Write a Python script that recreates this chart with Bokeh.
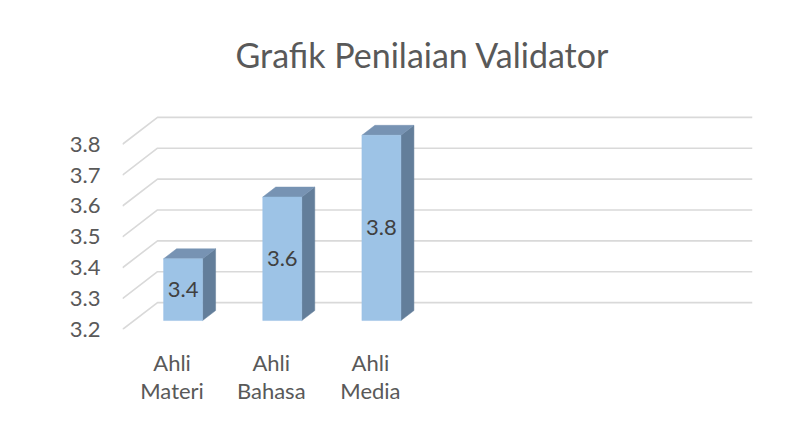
from bokeh.plotting import figure
from bokeh.models import Range1d, FixedTicker, ColumnDataSource
from bokeh.embed import file_html
from bokeh.resources import INLINE
from bokeh.core.properties import value

# ---- data ----
title = "Grafik Penilaian Validator"
categories = ["Ahli Materi", "Ahli Bahasa", "Ahli Media"]
scores = [3.4, 3.6, 3.8]
y_ticks = [3.2, 3.3, 3.4, 3.5, 3.6, 3.7, 3.8]
y_base = 3.2

# ---- layout (pixels) ----
FONT = "Lato"
W, H = 795, 407
N_SLOTS = 6                 # category slots on the axis (3 empty)
PX_SLOT = 595 / N_SLOTS     # px per category slot
PX_UNIT = 310.0             # px per value unit
DEPTH_X, DEPTH_Y = 35, 27   # 3-D depth of the wall (px)
BAR_OFF_X, BAR_OFF_Y = 11, 9
BAR_D_X, BAR_D_Y = 13, 10
BAR_W = 39
L, R, B, T = 122, 43, 77, 80

dxf = DEPTH_X / PX_SLOT
dyf = DEPTH_Y / PX_UNIT
frame_w = W - L - R
frame_h = H - B - T

p = figure(width=W, height=H, output_backend="svg", toolbar_location=None,
           x_range=Range1d(0, frame_w / PX_SLOT), y_range=Range1d(y_base, y_base + frame_h / PX_UNIT),
           min_border_left=L, min_border_right=R, min_border_bottom=B, min_border_top=T,
           background_fill_color="white", border_fill_color="white")
p.outline_line_color = None
p.grid.visible = False

# title
p.title.text = title
p.title.text_font = FONT
p.title.text_font_size = "34px"
p.title.text_font_style = "normal"
p.title.text_color = "#595959"
p.title.align = "left"
p.title.offset = 113
p.title.standoff = 12

# gridlines (front diagonal + back wall)
gx, gy = [], []
for t in y_ticks:
    gx.append([0, dxf, N_SLOTS + dxf])
    gy.append([t, t + dyf, t + dyf])
p.multi_line(gx, gy, line_color="#D9D9D9", line_width=1.6)

# bars
bo_x, bo_y = BAR_OFF_X / PX_SLOT, BAR_OFF_Y / PX_UNIT
bd_x, bd_y = BAR_D_X / PX_SLOT, BAR_D_Y / PX_UNIT
hw = BAR_W / PX_SLOT / 2
front_x, front_y, side_x, side_y, top_x, top_y = [], [], [], [], [], []
lab_x, lab_y, lab_t = [], [], []
for i, v in enumerate(scores):
    c = i + 0.5 + bo_x
    xl, xr = c - hw, c + hw
    yb, yt = y_base + bo_y, v + bo_y
    front_x.append([xl, xr, xr, xl]); front_y.append([yb, yb, yt, yt])
    side_x.append([xr, xr + bd_x, xr + bd_x, xr]); side_y.append([yb, yb + bd_y, yt + bd_y, yt])
    top_x.append([xl, xr, xr + bd_x, xl + bd_x]); top_y.append([yt, yt, yt + bd_y, yt + bd_y])
    lab_x.append(c); lab_y.append((yb + yt) / 2); lab_t.append(f"{v:.1f}")

p.patches(side_x, side_y, fill_color="#637E9A", line_color="#637E9A", line_width=0.5)
p.patches(top_x, top_y, fill_color="#7793B3", line_color="#7793B3", line_width=0.5)
p.patches(front_x, front_y, fill_color="#9DC3E6", line_color="#9DC3E6", line_width=0.5)

src = ColumnDataSource(dict(x=lab_x, y=lab_y, t=lab_t))
p.text("x", "y", text="t", source=src, text_font=value(FONT), text_font_size="22px",
       text_color="#404040", text_align="center", text_baseline="middle")

# axes
ya = p.yaxis[0]
ya.ticker = FixedTicker(ticks=y_ticks)
ya.major_label_overrides = {t: f"{t:.1f}" for t in y_ticks}
ya.axis_line_color = None
ya.major_tick_line_color = None
ya.minor_tick_line_color = None
ya.major_tick_out = 0
ya.major_tick_in = 0
ya.major_label_standoff = 22
ya.major_label_text_font = FONT
ya.major_label_text_font_size = "22px"
ya.major_label_text_color = "#595959"

xa = p.xaxis[0]
xticks = [i + 0.5 for i in range(len(categories))]
xa.ticker = FixedTicker(ticks=xticks)
xa.major_label_overrides = {x: c.replace(" ", "\n") for x, c in zip(xticks, categories)}
xa.axis_line_color = None
xa.major_tick_line_color = None
xa.minor_tick_line_color = None
xa.major_tick_out = 0
xa.major_tick_in = 0
xa.major_label_standoff = 19
xa.major_label_text_font = FONT
xa.major_label_text_font_size = "22px"
xa.major_label_text_line_height = 1.06
xa.major_label_text_color = "#595959"

open("out.html", "w").write(file_html(p, INLINE))
